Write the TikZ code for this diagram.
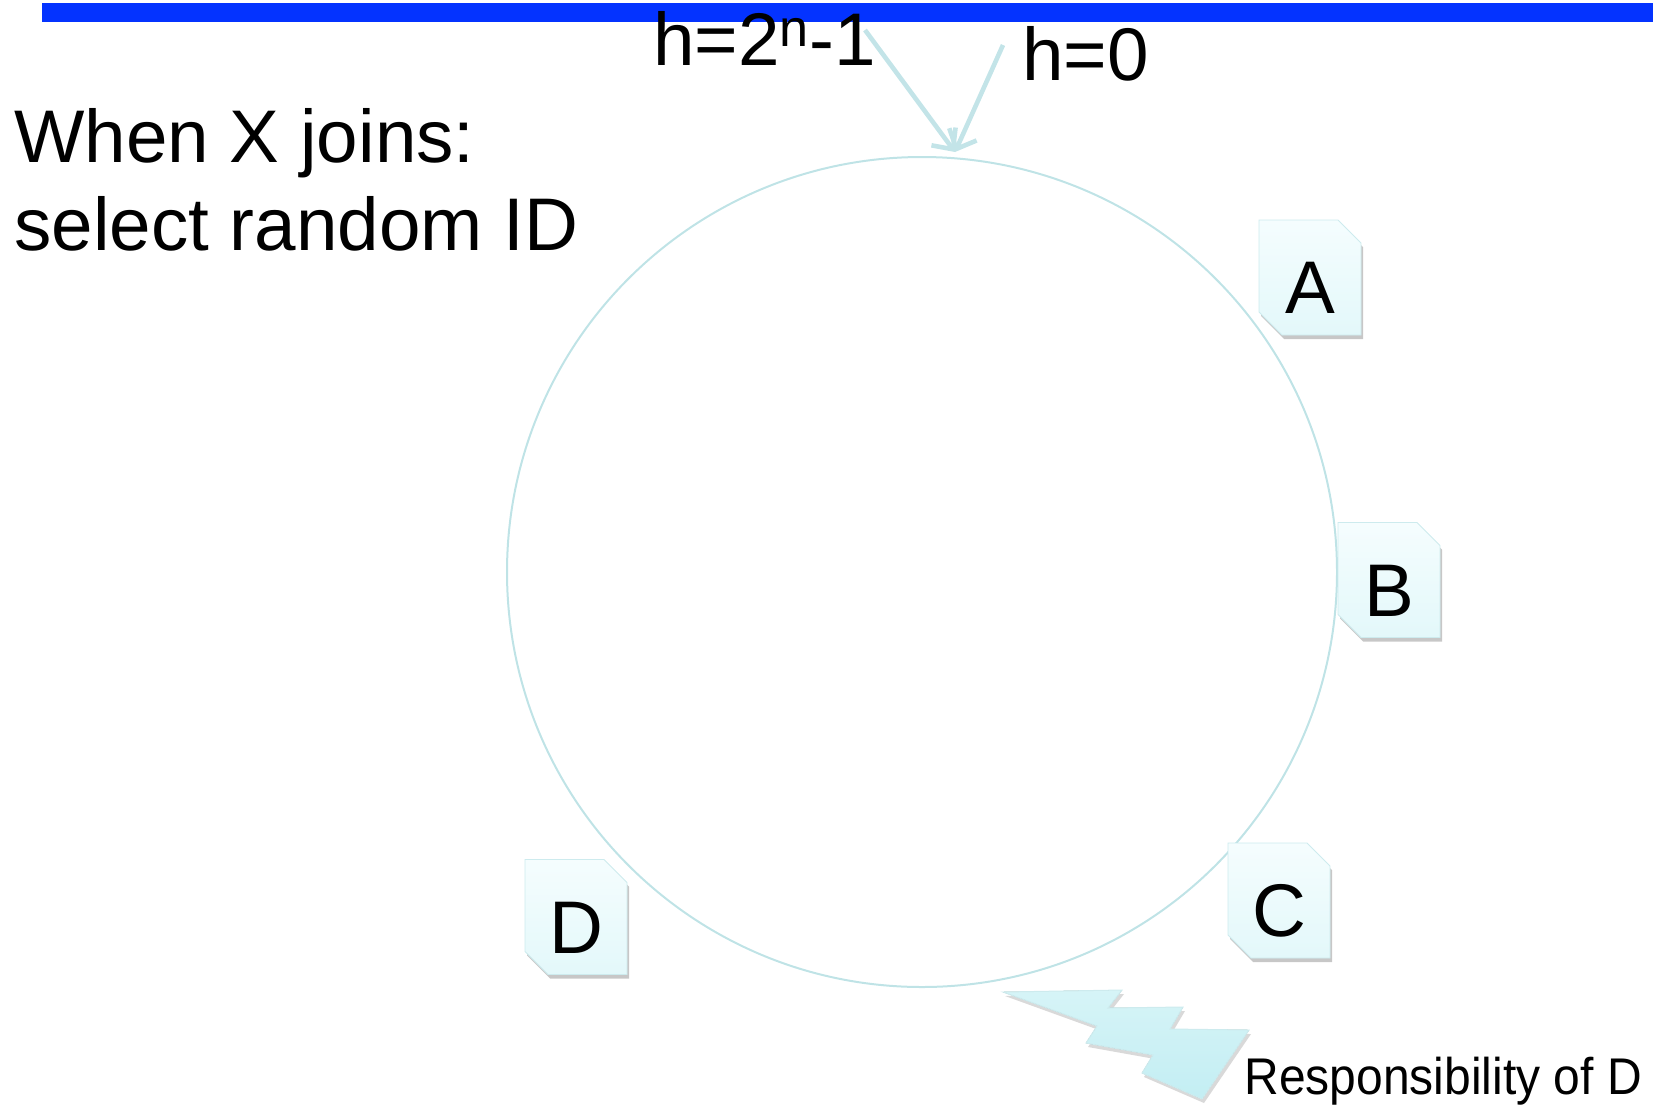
\documentclass[tikz,border=0pt]{standalone}
\usepackage{fontspec}
\setmainfont{Liberation Sans}
\newfontfamily\narrowsans[FakeStretch=0.93]{Liberation Sans}
\usetikzlibrary{arrows.meta,shapes.misc,shadows}

\definecolor{barblue}{HTML}{0433FF}
\definecolor{ringcol}{HTML}{BFE3E6}
\definecolor{arrcol}{HTML}{C3E4E8}
\definecolor{boxtop}{HTML}{F5FDFE}
\definecolor{boxbot}{HTML}{E3F8FA}
\definecolor{boxline}{HTML}{CDEBEE}
\definecolor{bolttop}{HTML}{D6F4F7}
\definecolor{boltbot}{HTML}{C3EEF3}

\tikzset{
	big/.style={font=\fontsize{37.3pt}{44pt}\selectfont},
	idbox/.style={big,chamfered rectangle,chamfered rectangle corners={north east,south west},
		chamfered rectangle xsep=8pt,inner sep=0pt,minimum width=51pt,minimum height=57.5pt,
		text height=36pt,text depth=0pt,top color=boxtop,bottom color=boxbot,draw=boxline,line width=.4pt,
		drop shadow={shadow xshift=1pt,shadow yshift=-2pt,fill=black,opacity=.22}},
	hashline/.style={arrcol,line width=2.3pt,-{Straight Barb[length=8pt,width=15pt,line width=2.3pt]}}
}

\begin{document}
\begin{tikzpicture}[x=0.5pt,y=-0.5pt]
	\useasboundingbox (0,0) rectangle (1653,1104);
	\fill[barblue] (42,3) rectangle (1653,22);

	% the identifier ring
	\draw[ringcol,line width=1pt] (922,572) circle (207.5pt);

	\node[big,anchor=north west,align=left,inner sep=0pt] (join) at (14,108) {When X joins:\\select random ID};
	\node[big,anchor=base west,inner sep=0pt] (hmax) at (653,65) {h=2\textsuperscript{n}-1};
	\node[big,anchor=base west,inner sep=0pt] (hzero) at (1022,80) {h=0};

	\path
	(865,30) coordinate (maxend)
	(1003,45) coordinate (zeroend)
	(955,152) coordinate (tip);
	\draw[hashline] (maxend) -- (tip);
	\draw[hashline] (zeroend) -- (tip);

	% nodes on the ring
	\foreach \n/\x/\y in {A/1310/277.5,B/1389/580,C/1279/900.5,D/576/917}
		\node[idbox] (\n) at (\x,\y) {\n};

	% range that D is responsible for
	\filldraw[top color=bolttop,bottom color=boltbot,draw=boxline,line width=.5pt,
		drop shadow={shadow xshift=1pt,shadow yshift=-2pt,fill=black,opacity=.15}]
	(1003,992) -- (1122,990) -- (1108,1008) -- (1183,1007) -- (1170,1029) -- (1249,1030)
	-- (1202,1099) -- (1142,1073) -- (1153,1055) -- (1086,1043) -- (1097,1026) -- cycle;
	\node[font=\narrowsans\fontsize{25.8pt}{31pt}\selectfont,anchor=base west,inner sep=0pt] (resp) at (1244,1094) {Responsibility of D};
\end{tikzpicture}
\end{document}
